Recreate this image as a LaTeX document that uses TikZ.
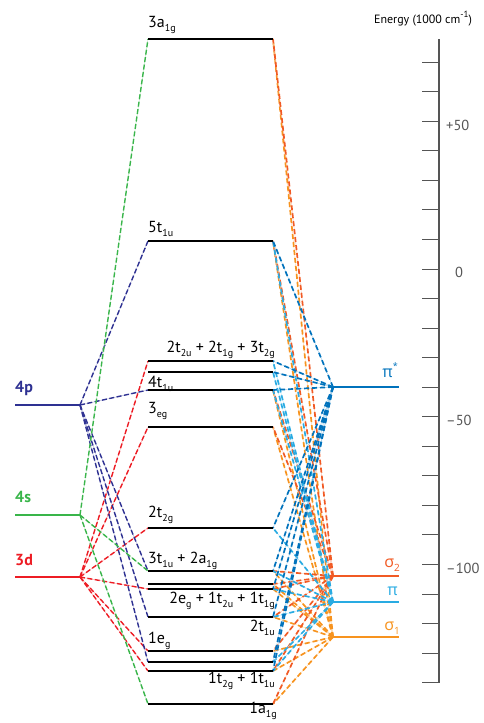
\documentclass[tikz,border=0pt]{standalone}
\usepackage{fontspec}
\setmainfont{PT Sans}
\newfontfamily\gr{Open Sans}
\newcommand\sbs[1]{\raisebox{-0.5ex}{\fontsize{10}{11}\selectfont #1}}
\newcommand\sps[1]{\raisebox{0.9ex}{\fontsize{9}{10}\selectfont #1}}
\definecolor{cp}{HTML}{2E3192}
\definecolor{cs}{HTML}{39B54A}
\definecolor{cd}{HTML}{ED1C24}
\definecolor{cpis}{HTML}{0072BC}
\definecolor{csb}{HTML}{F15A24}
\definecolor{cpi}{HTML}{29ABE2}
\definecolor{csa}{HTML}{F7931E}
\definecolor{axc}{HTML}{555555}
\tikzset{
  conn/.style={preaction={draw=#1!40,solid,line width=0.4pt},draw=#1,dash pattern=on 5pt off 2.5pt,line width=1.4pt},
  connr/.style={preaction={draw=#1!40,solid,line width=0.4pt},draw=#1,dash pattern=on 5pt off 3pt,line width=1.7pt},
  mo/.style={draw=black,line width=2.5pt},
  ao/.style={draw=#1,line width=2pt},
  lig/.style={draw=#1,line width=2.5pt},
  mol/.style={font=\fontsize{16}{18}\selectfont,inner sep=0pt},
  aol/.style={font=\fontsize{16}{18}\selectfont\bfseries,inner sep=0pt,anchor=base west},
  ligl/.style={font=\fontsize{16}{18}\selectfont\gr,inner sep=0pt,anchor=base east},
  tick/.style={draw=axc,line width=1pt},
  axl/.style={font=\fontsize{14.5}{16}\selectfont,text=axc,inner sep=0pt,anchor=west}
}
\begin{document}
\begin{tikzpicture}[x=1pt,y=-1pt]
\useasboundingbox (0,0) rectangle (483,723);
% MO level end points
\foreach \n/\y in {a3/39, t5/241, m1/361, m2/372, t4/390, e3/427, g2/528, t3/571, m3/584, m4/589, t2/617, e1/651, m5/662, t1/671, a1/704} {
  \coordinate (\n L) at (148,\y);
  \coordinate (\n R) at (273,\y);
}
% AO levels
\coordinate (p4a) at (15,405); \coordinate (p4) at (80,405);
\coordinate (s4a) at (15,515); \coordinate (s4) at (80,515);
\coordinate (d3a) at (15,577); \coordinate (d3) at (80,577);
% ligand levels
\coordinate (pis) at (333,387); \coordinate (pisE) at (399,387);
\coordinate (sb) at (333,576);  \coordinate (sbE) at (399,576);
\coordinate (pi) at (333,602);  \coordinate (piE) at (399,602);
\coordinate (sa) at (333,637);  \coordinate (saE) at (399,637);
% connectors, right side
\foreach \t in {a3,t5,t4,e3,t3,m3,m4,t2,e1,t1,a1} {
  \draw[connr=csa] (sa) -- (\t R);
  \draw[connr=csb] (sb) -- (\t R);
}
\foreach \t in {t5,m1,m2,t4,g2,t3,m4,t2,m5,t1} {
  \draw[connr=cpi] (pi) -- (\t R);
  \draw[connr=cpis] (pis) -- (\t R);
}
% connectors, left side
\foreach \t in {m1,e3,g2,m4,e1,t1} \draw[conn=cd] (d3) -- (\t L);
\foreach \t in {t5,t4,t3,t2,m5} \draw[conn=cp] (p4) -- (\t L);
\foreach \t in {a3,t3,a1} \draw[conn=cs] (s4) -- (\t L);
% MO levels
\foreach \n in {a3,t5,m1,m2,t4,e3,g2,t3,m3,m4,t2,e1,m5,t1,a1} \draw[mo] (\n L) -- (\n R);
% AO and ligand levels
\draw[ao=cp] (p4a) -- (p4);
\draw[ao=cs] (s4a) -- (s4);
\draw[ao=cd] (d3a) -- (d3);
\draw[lig=cpis] (pis) -- (pisE);
\draw[lig=csb] (sb) -- (sbE);
\draw[lig=cpi] (pi) -- (piE);
\draw[lig=csa] (sa) -- (saE);
% MO labels
\node[mol,anchor=base west] (la3) at (148,27) {3a\sbs{1g}};
\node[mol,anchor=base west] (lt5) at (148,232) {5t\sbs{1u}};
\node[mol,anchor=base east] (lm1) at (275,352) {2t\sbs{2u} + 2t\sbs{1g} + 3t\sbs{2g}};
\node[mol,anchor=base west] (lt4) at (148,387) {4t\sbs{1u}};
\node[mol,anchor=base west] (le3) at (148,413) {3\sbs{eg}};
\node[mol,anchor=base west] (lg2) at (148,517) {2t\sbs{2g}};
\node[mol,anchor=base west] (lt3) at (148,563) {3t\sbs{1u} + 2a\sbs{1g}};
\node[mol,anchor=base east] (lm4) at (275,603) {2e\sbs{g} + 1t\sbs{2u} + 1t\sbs{1g}};
\node[mol,anchor=base east] (lt2) at (275,631) {2t\sbs{1u}};
\node[mol,anchor=base west] (le1) at (148,643) {1e\sbs{g}};
\node[mol,anchor=base east] (lt1) at (275,683) {1t\sbs{2g} + 1t\sbs{1u}};
\node[mol,anchor=base east] (la1) at (277,713) {1a\sbs{1g}};
% AO labels
\node[aol,text=cp] (lp4) at (15,392) {4p};
\node[aol,text=cs] (ls4) at (15,502) {4s};
\node[aol,text=cd] (ld3) at (15,565) {3d};
% ligand labels
\node[ligl,text=cpis] (lpis) at (398,377) {π\sps{*}};
\node[ligl,text=csb] (lsb) at (400,567) {σ\sbs{2}};
\node[ligl,text=cpi] (lpi) at (398,595) {π};
\node[ligl,text=csa] (lsa) at (400,630) {σ\sbs{1}};
% energy axis
\coordinate (axT) at (439,39); \coordinate (axB) at (439,683);
\draw[draw=axc,line width=1.2pt] (axT) -- (axB);
\foreach \k in {7,6,...,-14} \draw[tick] (422,{269-29.55*\k}) -- (439,{269-29.55*\k});
\node[axl] (l50) at (446,125) {+50};
\node[axl] (l0) at (455,272) {0};
\node[axl] (lm50) at (446,420) {–50};
\node[axl] (lm100) at (446,568) {–100};
\node[font=\fontsize{12}{14}\selectfont,inner sep=0pt,anchor=base] (en) at (423,23) {Energy (1000 cm\sps{-1})};
\end{tikzpicture}
\end{document}
